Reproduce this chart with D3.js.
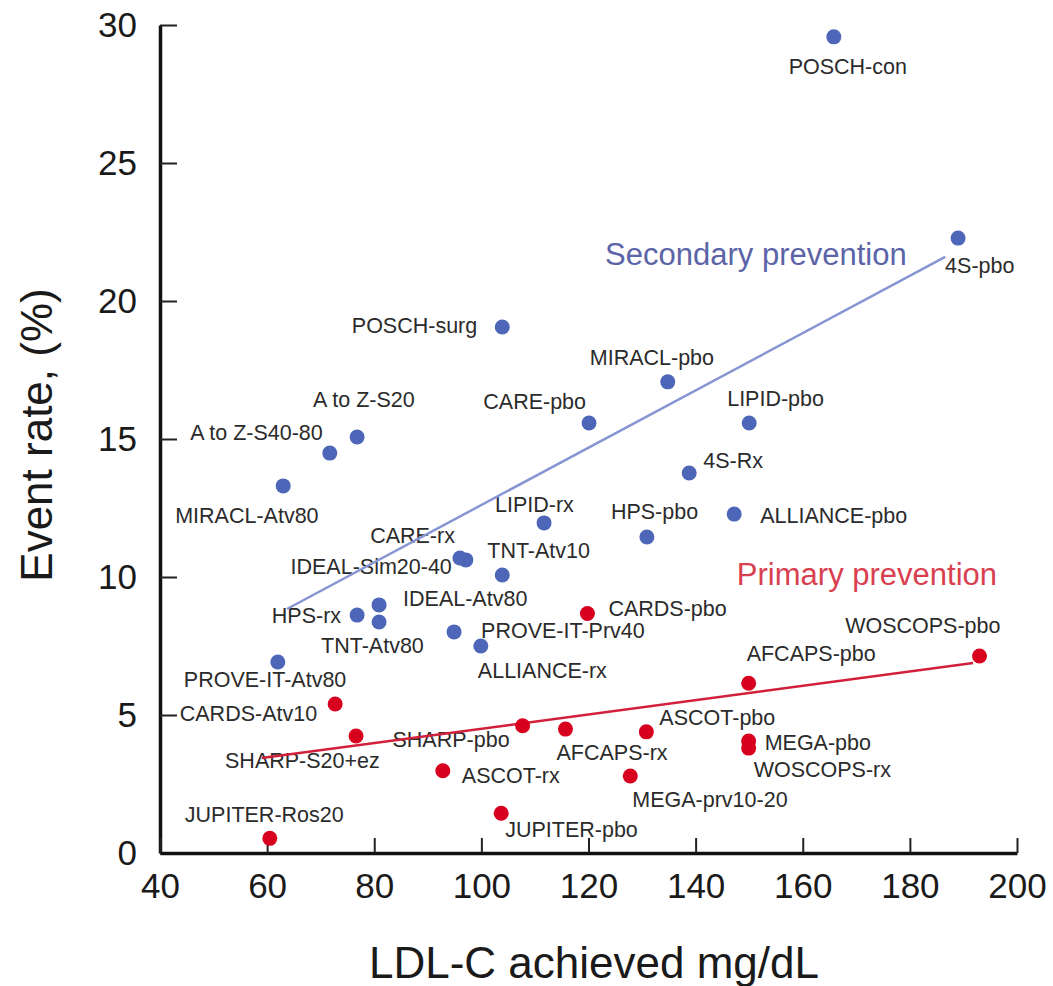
<!DOCTYPE html>
<html>
<head>
<meta charset="utf-8">
<script src="https://cdn.jsdelivr.net/npm/d3@7"></script>
<style>
  body { margin: 0; background: #fff; }
  text { font-family: "Liberation Sans", Arial, sans-serif; }
</style>
</head>
<body>
<div id="viz"></div>
<script>
var w = 1053;
var h = 986;

// secondary prevention trials
var secNames = ["POSCH-con", "4S-pbo", "POSCH-surg", "MIRACL-pbo", "CARE-pbo", "LIPID-pbo",
    "A to Z-S20", "A to Z-S40-80", "4S-Rx", "MIRACL-Atv80", "ALLIANCE-pbo", "LIPID-rx",
    "HPS-pbo", "CARE-rx", "IDEAL-Sim20-40", "TNT-Atv10", "IDEAL-Atv80", "HPS-rx",
    "TNT-Atv80", "PROVE-IT-Prv40", "ALLIANCE-rx", "PROVE-IT-Atv80"];
var secLDL = [165.8, 189.0, 103.9, 134.8, 120.1, 150.0, 76.8, 71.7, 138.8, 63.0, 147.2, 111.7,
    130.9, 96.0, 97.1, 103.9, 80.9, 76.8, 80.9, 94.9, 99.9, 62.0];
var secRate = [29.57, 22.28, 19.06, 17.07, 15.58, 15.58, 15.07, 14.49, 13.77, 13.30, 12.28, 11.96,
    11.45, 10.69, 10.62, 10.07, 8.99, 8.62, 8.37, 8.01, 7.50, 6.92];

// primary prevention trials
var primNames = ["CARDS-pbo", "WOSCOPS-pbo", "AFCAPS-pbo", "CARDS-Atv10", "SHARP-pbo", "AFCAPS-rx",
    "ASCOT-pbo", "SHARP-S20+ez", "MEGA-pbo", "WOSCOPS-rx", "ASCOT-rx", "MEGA-prv10-20",
    "JUPITER-pbo", "JUPITER-Ros20"];
var primLDL = [119.8, 193.0, 149.9, 72.7, 107.7, 115.7, 130.8, 76.6, 149.9, 149.9, 92.8, 127.8, 103.7, 60.5];
var primRate = [8.68, 7.14, 6.15, 5.40, 4.61, 4.49, 4.39, 4.24, 4.06, 3.80, 2.98, 2.79, 1.44, 0.53];

// fitted lines (LDL, rate)
var secFit = [[63.7, 8.84], [186.6, 21.6]];
var primFit = [[59.0, 3.44], [191.8, 6.88]];

var xTicks = [40, 60, 80, 100, 120, 140, 160, 180, 200];
var yTicks = [0, 5, 10, 15, 20, 25, 30];

// label placement: dx, dy (px from dot), anchor
var labelPos = {
    "POSCH-con": [14, 37, "middle"], "4S-pbo": [-13, 35, "start"], "POSCH-surg": [-25, 6, "end"],
    "MIRACL-pbo": [-78, -17, "start"], "CARE-pbo": [-3, -14, "end"], "LIPID-pbo": [-22, -17, "start"],
    "A to Z-S20": [-44, -30, "start"], "A to Z-S40-80": [-7, -13, "end"], "4S-Rx": [14, -5, "start"],
    "MIRACL-Atv80": [-108, 37, "start"], "ALLIANCE-pbo": [26, 9, "start"], "LIPID-rx": [-49, -11, "start"],
    "HPS-pbo": [-36, -18, "start"], "CARE-rx": [-5, -15, "end"], "IDEAL-Sim20-40": [-14, 14, "end"],
    "TNT-Atv10": [-15, -17, "start"], "IDEAL-Atv80": [24, 1, "start"], "HPS-rx": [-16, 8, "end"],
    "TNT-Atv80": [-58, 31, "start"], "PROVE-IT-Prv40": [27, 6, "start"], "ALLIANCE-rx": [-3, 32, "start"],
    "PROVE-IT-Atv80": [-94, 25, "start"],
    "CARDS-pbo": [21, 3, "start"], "WOSCOPS-pbo": [21, -23, "end"], "AFCAPS-pbo": [-2, -22, "start"],
    "CARDS-Atv10": [-18, 17, "end"], "SHARP-pbo": [-13, 21, "end"], "AFCAPS-rx": [-9, 31, "start"],
    "ASCOT-pbo": [13, -7, "start"], "SHARP-S20+ez": [-131, 32, "start"], "MEGA-pbo": [16, 9, "start"],
    "WOSCOPS-rx": [5, 29, "start"], "ASCOT-rx": [19, 12, "start"], "MEGA-prv10-20": [2, 31, "start"],
    "JUPITER-pbo": [4, 24, "start"], "JUPITER-Ros20": [-85, -16, "start"]
};

var blue = "#4d66b8";
var red = "#d7001e";

var svg = d3.select("#viz")
    .append("svg")
    .attr("width", w)
    .attr("height", h);

var x = d3.scaleLinear().domain([40, 200]).range([160, 1017]);
var y = d3.scaleLinear().domain([0, 30]).range([853, 25]);

var secData = secNames.map(function (n, i) { return { name: n, ldl: secLDL[i], rate: secRate[i] }; });
var primData = primNames.map(function (n, i) { return { name: n, ldl: primLDL[i], rate: primRate[i] }; });

//__axes
var yAxis = d3.axisLeft(y).tickValues(yTicks).tickSizeInner(-17).tickSizeOuter(0).tickPadding(23);
var xAxis = d3.axisBottom(x).tickValues(xTicks).tickSizeInner(-15).tickSizeOuter(0).tickPadding(20);

var gy = svg.append("g").attr("transform", "translate(" + x(40) + ",0)").call(yAxis);
var gx = svg.append("g").attr("transform", "translate(0," + y(0) + ")").call(xAxis);

[gx, gy].forEach(function (g) {
    g.select(".domain").attr("stroke", "#111").attr("stroke-width", 3.5);
    g.selectAll(".tick line").attr("stroke", "#222").attr("stroke-width", 2);
    g.selectAll(".tick text")
        .attr("fill", "#1a1a1a")
        .style("font-size", "35px");
});

svg.append("text")
    .attr("x", 594)
    .attr("y", 978)
    .attr("text-anchor", "middle")
    .attr("fill", "#1a1a1a")
    .style("font-size", "44px")
    .text("LDL-C achieved mg/dL");

svg.append("text")
    .attr("transform", "translate(52,435) rotate(-90)")
    .attr("text-anchor", "middle")
    .attr("fill", "#1a1a1a")
    .style("font-size", "44px")
    .text("Event rate, (%)");

//__labels
var labels = svg.append("g").attr("class", "labels");
labels.selectAll("text")
    .data(secData.concat(primData))
    .enter()
    .append("text")
    .attr("x", function (d) { return x(d.ldl) + labelPos[d.name][0]; })
    .attr("y", function (d) { return y(d.rate) + labelPos[d.name][1]; })
    .attr("text-anchor", function (d) { return labelPos[d.name][2]; })
    .attr("fill", "#2b2b2b")
    .style("font-size", "21.5px")
    .text(function (d) { return d.name; });

//__fit lines
var line = d3.line()
    .x(function (d) { return x(d[0]); })
    .y(function (d) { return y(d[1]); });

svg.append("path")
    .attr("d", line(secFit))
    .attr("fill", "none")
    .attr("stroke", "#8796d2")
    .attr("stroke-width", 2.5);

svg.append("path")
    .attr("d", line(primFit))
    .attr("fill", "none")
    .attr("stroke", "#d2203a")
    .attr("stroke-width", 2.5);

//__dots
svg.append("g").selectAll("circle")
    .data(secData)
    .enter()
    .append("circle")
    .attr("cx", function (d) { return x(d.ldl); })
    .attr("cy", function (d) { return y(d.rate); })
    .attr("r", 7.5)
    .attr("fill", blue);

svg.append("g").selectAll("circle")
    .data(primData)
    .enter()
    .append("circle")
    .attr("cx", function (d) { return x(d.ldl); })
    .attr("cy", function (d) { return y(d.rate); })
    .attr("r", 7.5)
    .attr("fill", red);

//__group names
svg.append("text")
    .attr("x", x(123.1))
    .attr("y", y(21.3))
    .attr("fill", "#5c64a8")
    .style("font-size", "31px")
    .text("Secondary prevention");

svg.append("text")
    .attr("x", x(147.7))
    .attr("y", y(9.71))
    .attr("fill", "#d9404f")
    .style("font-size", "31px")
    .text("Primary prevention");
</script>
</body>
</html>
